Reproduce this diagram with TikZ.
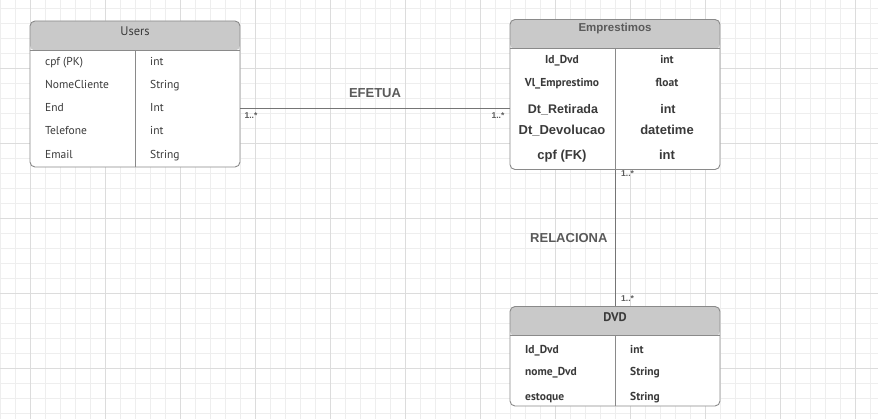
\documentclass[tikz,border=0pt]{standalone}
\usepackage{fontspec}
\setmainfont{PT Sans}
\newfontfamily\arialfont{Liberation Sans}
\usetikzlibrary{calc}

\definecolor{grade}{HTML}{EEEEEE}
\definecolor{gradeforte}{HTML}{DCDCDC}
\definecolor{borda}{HTML}{8A8A8A}
\definecolor{cabeca}{HTML}{C9C9C9}
\definecolor{texto}{HTML}{3A3A3A}
\definecolor{rotulo}{HTML}{5A5A5A}

\begin{document}
\begin{tikzpicture}[x=1pt,y=-1pt]
  \tikzstyle{tabela}=[draw=borda, line width=0.9pt, rounded corners=5pt, fill=white, inner sep=0,
    path picture={\fill[cabeca] (path picture bounding box.north west) rectangle ([yshift=-29.5pt]path picture bounding box.north east);}];
  \tikzstyle{divisao}=[draw=borda, line width=0.9pt];
  \tikzstyle{titulo}=[text=texto, inner sep=0, font=\fontsize{12.5}{14}\selectfont];
  \tikzstyle{campo}=[text=texto, inner sep=0, anchor=west, text height=8.5pt, text depth=2.5pt, yshift=-1pt, font=\fontsize{11.5}{13}\selectfont];
  \tikzstyle{campob}=[text=texto, inner sep=0, text height=8.5pt, text depth=2.5pt, yshift=-1pt, font=\fontsize{11.5}{13}\selectfont\bfseries];
  \tikzstyle{campoa}=[text=texto, inner sep=0, text height=10pt, text depth=3pt, yshift=-1pt, font=\arialfont\fontsize{13}{15}\selectfont\bfseries];
  \tikzstyle{ligacao}=[draw=borda!85!black, line width=1pt];
  \tikzstyle{rotulo}=[text=rotulo, inner sep=0, font=\arialfont\fontsize{13}{15}\selectfont\bfseries];
  \tikzstyle{mult}=[text=rotulo, inner sep=0, font=\arialfont\fontsize{8.5}{10}\selectfont\bfseries];

  % fundo quadriculado
  \useasboundingbox (0,0) rectangle (878,419);
  \fill[white] (0,0) rectangle (878,419);
  \foreach \x in {0,15,...,870} \draw[grade, line width=0.7pt] (\x,0) -- (\x,419);
  \foreach \y in {8,23,...,413} \draw[grade, line width=0.7pt] (0,\y) -- (878,\y);
  \foreach \x in {30,105,...,855} \draw[gradeforte, line width=0.8pt] (\x,0) -- (\x,419);
  \foreach \y in {68,143,...,368} \draw[gradeforte, line width=0.8pt] (0,\y) -- (878,\y);

  % tabelas
  \node[tabela, minimum width=210pt, minimum height=146pt] (users) at (135,94) {};
  \node[tabela, minimum width=210pt, minimum height=150pt] (empr) at (615,94.5) {};
  \node[tabela, minimum width=210pt, minimum height=99.5pt] (dvd) at (615,356.25) {};

  \draw[divisao] ([yshift=-29.5pt]users.north west) -- ([yshift=-29.5pt]users.north east);
  \draw[divisao] ([yshift=-29.5pt]users.north) -- (users.south);
  \draw[divisao] ([yshift=-29.5pt]empr.north west) -- ([yshift=-29.5pt]empr.north east);
  \draw[divisao] ([yshift=-29.5pt]empr.north) -- (empr.south);
  \draw[divisao] ([yshift=-29.5pt]dvd.north west) -- ([yshift=-29.5pt]dvd.north east);
  \draw[divisao] ([yshift=-29.5pt]dvd.north) -- (dvd.south);

  % Users
  \node[titulo] (ut) at (135,31) {Users};
  \node[campo] (u1) at (45,61.7) {cpf (PK)};
  \node[campo] (u2) at (45,84.5) {NomeCliente};
  \node[campo] (u3) at (45,108) {End};
  \node[campo] (u4) at (45,130.5) {Telefone};
  \node[campo] (u5) at (45,154.5) {Email};
  \node[campo] (u1t) at (150,61.7) {int};
  \node[campo] (u2t) at (150,84.5) {String};
  \node[campo] (u3t) at (150,108) {Int};
  \node[campo] (u4t) at (150,130.5) {int};
  \node[campo] (u5t) at (150,154.5) {String};

  % Emprestimos
  \node[titulo, text=rotulo, font=\arialfont\fontsize{11.5}{13}\selectfont\bfseries] (et) at (615,29) {Emprestimos};
  \node[campob] (e1) at (562,59.5) {Id\_Dvd};
  \node[campob] (e2) at (562,83) {Vl\_Emprestimo};
  \node[campoa, font=\arialfont\fontsize{12.5}{15}\selectfont\bfseries] (e3) at (563,109) {Dt\_Retirada};
  \node[campoa] (e4) at (562,130) {Dt\_Devolucao};
  \node[campoa] (e5) at (562,155) {cpf (FK)};
  \node[campob] (e1t) at (667,59.5) {int};
  \node[campob] (e2t) at (667,83) {float};
  \node[campoa, font=\arialfont\fontsize{12.5}{15}\selectfont\bfseries] (e3t) at (668,109) {int};
  \node[campoa] (e4t) at (667,130) {datetime};
  \node[campoa] (e5t) at (667,155) {int};

  % DVD
  \node[titulo, font=\fontsize{12.5}{14}\selectfont\bfseries] (dt) at (615,317) {DVD};
  \node[campob, anchor=west] (d1) at (525,349.5) {Id\_Dvd};
  \node[campob, anchor=west] (d2) at (525,372) {nome\_Dvd};
  \node[campob, anchor=west] (d3) at (525,396) {estoque};
  \node[campob, anchor=west] (d1t) at (630,349.5) {int};
  \node[campob, anchor=west] (d2t) at (630,372) {String};
  \node[campob, anchor=west] (d3t) at (630,396) {String};

  % ligacoes
  \draw[ligacao] ([yshift=-14.3pt]users.east) coordinate (efa)
    -- (efa -| empr.west) coordinate (efb)
    node[rotulo, midway, above=10pt] (efetua) {EFETUA};
  \node[mult, anchor=north west] (m1) at ([xshift=4pt, yshift=-4pt]efa) {1..*};
  \node[mult, anchor=north east] (m2) at ([xshift=-5pt, yshift=-4pt]efb) {1..*};

  \draw[ligacao] (empr.south) -- (dvd.north)
    node[rotulo, midway, left=7pt] (relaciona) {RELACIONA};
  \node[mult, anchor=north west] (m3) at ([xshift=6pt, yshift=-1pt]empr.south) {1..*};
  \node[mult, anchor=south west] (m4) at ([xshift=6pt, yshift=4pt]dvd.north) {1..*};
\end{tikzpicture}
\end{document}
